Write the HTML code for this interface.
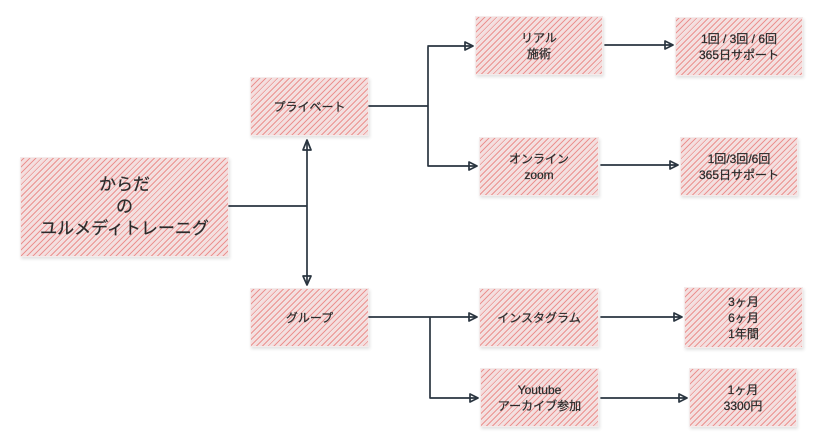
<!DOCTYPE html>
<html><head><meta charset="utf-8"><style>
body{margin:0;width:815px;height:441px;background:#fff;position:relative;overflow:hidden;font-family:"Liberation Sans","Noto Sans CJK JP",sans-serif;}
.b{position:absolute;display:flex;align-items:center;justify-content:center;text-align:center;color:#2b2b2b;font-size:12px;line-height:16px;-webkit-text-stroke:0.25px #2b2b2b;
background:repeating-linear-gradient(135deg,#f6dddd 0 1.6px,#eb9391 1.6px 2.6px,#f1e2e2 2.6px 4.2px);box-shadow:1px 2px 3px rgba(0,0,0,.12);border:1px solid #f4eaea;box-sizing:border-box;}
svg{position:absolute;left:0;top:0}
</style></head><body>
<div class="b" style="left:20px;top:157px;width:209px;height:100px;font-size:17px;line-height:22px">からだ<br>の<br>ユルメディトレーニグ</div>
<div class="b" style="left:250px;top:77px;width:119px;height:59px">プライベート</div>
<div class="b" style="left:250px;top:288px;width:119px;height:59px">グループ</div>
<div class="b" style="left:475px;top:16px;width:128px;height:59px">リアル<br>施術</div>
<div class="b" style="left:479px;top:137px;width:120px;height:59px">オンライン<br>zoom</div>
<div class="b" style="left:675px;top:17px;width:128px;height:59px">1回 / 3回 / 6回<br>365日サポート</div>
<div class="b" style="left:680px;top:137px;width:118px;height:59px">1回/3回/6回<br>365日サポート</div>
<div class="b" style="left:479px;top:288px;width:120px;height:59px">インスタグラム</div>
<div class="b" style="left:684px;top:287px;width:119px;height:61px">3ヶ月<br>6ヶ月<br>1年間</div>
<div class="b" style="left:480px;top:368px;width:119px;height:59px">Youtube<br>アーカイブ参加</div>
<div class="b" style="left:689px;top:368px;width:108px;height:59px">1ヶ月<br>3300円</div>
<svg width="815" height="441" fill="none" stroke="#2a3540" stroke-width="1.7" stroke-linecap="round" stroke-linejoin="round">
<path d="M229 206 L307 206 M307 142 L307 284"/>
<path d="M303 150 L307 140 L311 150 Z M303 276 L307 285 L311 276 Z"/>
<path d="M369 106 L428 106 M428 47 L428 166 M428 46 L472 46 M428 166 L476 166"/>
<path d="M465 42 L473 46 L465 50 Z M469 162 L477 166 L469 170 Z"/>
<path d="M605 45 L672 45 M665 41 L673 45 L665 49 Z"/>
<path d="M601 165 L677 165 M670 161 L678 165 L670 169 Z"/>
<path d="M369 317 L430 317 M430 317 L430 398 M430 317 L476 317 M430 398 L477 398"/>
<path d="M469 313 L477 317 L469 321 Z M470 394 L478 398 L470 402 Z"/>
<path d="M601 317 L681 317 M674 313 L682 317 L674 321 Z"/>
<path d="M601 398 L686 398 M679 394 L687 398 L679 402 Z"/>
</svg>
</body></html>
